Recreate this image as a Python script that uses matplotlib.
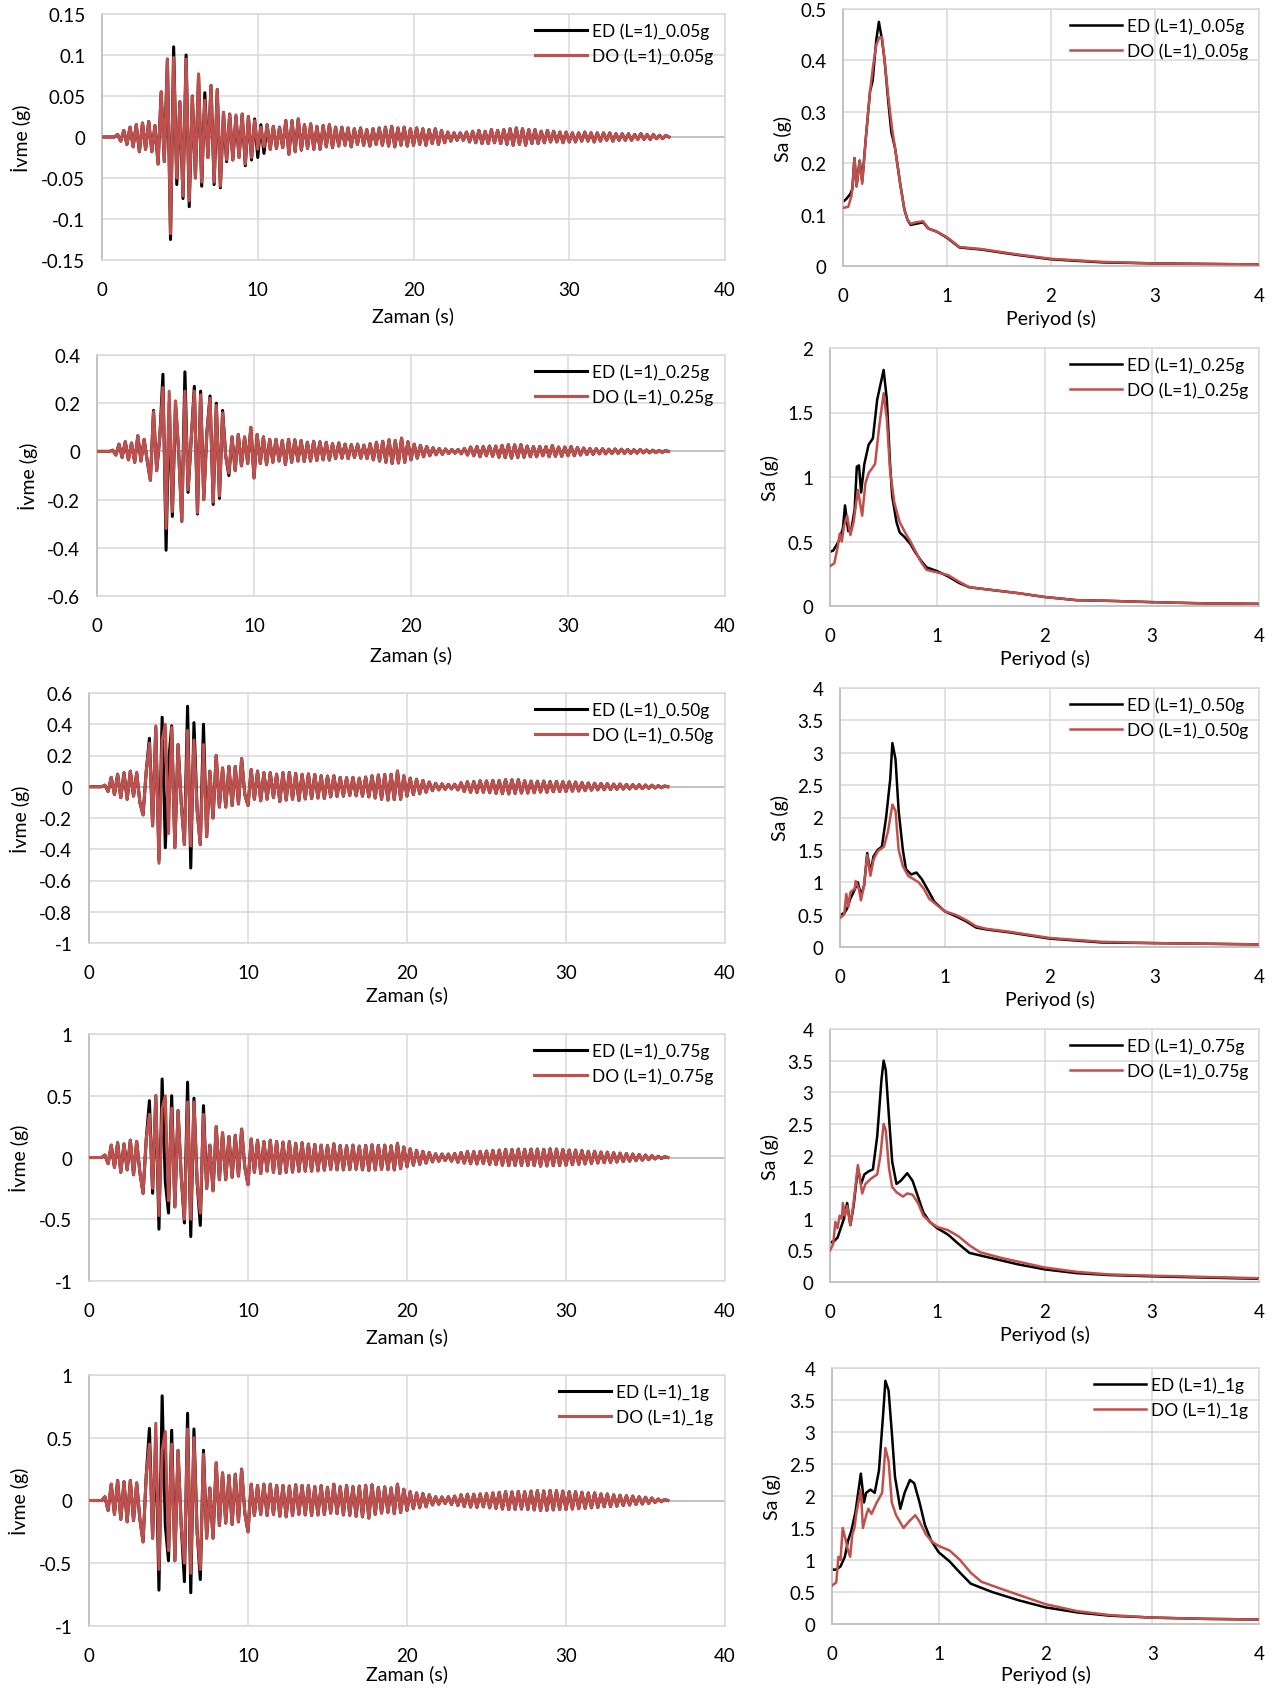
import numpy as np
import matplotlib.pyplot as plt

plt.rcParams['font.family'] = ['Lato', 'DejaVu Sans']

RED = '#c0504d'
GRID = '#d9d9d9'
AXIS = '#bfbfbf'

levels = ['0.05g', '0.25g', '0.50g', '0.75g', '1g']

# acceleration records: one value every 0.2 s, in mg
# first 12 s given separately for ED and DO, the rest of the record overlaps
t_acc = np.arange(183) * 0.2

ed_head_005 = [0, 0, 0, 0, 0, 3, -5, 8, -9, 12,
               -12, 15, -18, 17, -15, 19, -18, 14, -33, 55,
               -30, 95, -125, 110, -58, 43, -75, 100, -85, 50,
               -50, 75, -60, 54, -25, 63, -58, 58, -62, 30,
               -30, 28, -28, 25, -25, 28, -35, 25, -28, 22,
               -25, 15, -20, 15, -15, 13, -14, 12, -13, 20]
do_head_005 = [0, 0, 0, 0, 0, 3, -5, 8, -9, 12,
               -12, 15, -18, 17, -15, 19, -18, 14, -33, 55,
               -30, 95, -118, 97, -50, 43, -72, 95, -78, 50,
               -50, 77, -55, 45, -25, 63, -55, 58, -60, 30,
               -28, 28, -28, 27, -25, 28, -33, 25, -25, 20,
               -15, 12, -12, 15, -15, 13, -14, 12, -13, 20]
tail_005 = [-21, 20, -18, 22, -16, 15, -14, 16, -15, 13,
            -15, 14, -12, 15, -13, 12, -11, 12, -10, 11,
            -12, 10, -9, 11, -10, 9, -11, 10, -9, 11,
            -10, 12, -11, 13, -12, 11, -10, 12, -11, 10,
            -10, 11, -9, 10, -10, 9, -8, 10, -9, 8,
            -7, 6, -5, 5, -4, 5, -4, 6, -6, 7,
            -7, 8, -8, 7, -8, 9, -7, 8, -8, 9,
            -9, 10, -10, 11, -9, 10, -10, 9, -8, 9,
            -8, 7, -7, 8, -6, 7, -6, 6, -7, 6,
            -6, 5, -6, 5, -5, 6, -5, 5, -6, 5,
            -5, 5, -4, 5, -5, 4, -4, 4, -4, 4,
            -4, 3, -3, 4, -3, 3, -3, 3, -2, 2,
            -2, 2, 0]

ed_head_025 = [0, 0, 0, 0, 0, 5, -15, 30, -25, 40,
               -35, 35, -45, 65, -40, 50, -40, -120, 170, -80,
               60, 320, -410, 200, -270, 200, 0, -290, 330, -170,
               50, 270, -260, 250, -200, 80, 230, -220, 200, -195,
               170, -20, -100, 60, -80, 70, -60, 60, -50, 100,
               -110, 70, -50, 60, -55, 50, -45, 50, -40, 45]
do_head_025 = [0, 0, 0, 0, 0, 5, -15, 30, -25, 40,
               -35, 35, -45, 65, -40, 50, -40, -120, 165, -80,
               60, 265, -320, 250, -250, 210, 0, -290, 250, -160,
               50, 250, -255, 235, -200, 80, 220, -210, 190, -185,
               160, -20, -90, 60, -80, 70, -60, 60, -50, 100,
               -110, 70, -50, 60, -55, 50, -45, 50, -40, 45]
tail_025 = [-55, 50, -45, 48, -40, 45, -42, 38, -40, 42,
            -38, 40, -35, 38, -36, 32, -30, 35, -28, 30,
            -30, 28, -25, 30, -28, 26, -30, 32, -35, 38,
            -40, 42, -45, 48, -50, 45, -48, 55, -45, 40,
            -35, 30, -28, 25, -22, 20, -18, 15, -14, 12,
            -12, 10, -9, 8, -7, 8, -10, 12, -15, 18,
            -18, 20, -22, 20, -18, 22, -20, 22, -24, 25,
            -26, 28, -28, 27, -25, 28, -24, 22, -22, 20,
            -22, 20, -18, 20, -22, 24, -20, 18, -20, 18,
            -18, 20, -18, 16, -15, 14, -13, 12, -12, 11,
            -10, 11, -10, 9, -9, 10, -8, 9, -8, 8,
            -8, 7, -7, 8, -6, 6, -6, 5, -5, 4,
            -4, 3, 0]

ed_head_050 = [0, 0, 0, 0, 0, 10, -30, 60, -50, 80,
               -70, 90, -80, 100, -60, 90, -100, -180, 100, 310,
               -250, 380, -470, 445, -390, 150, 390, -390, 270, -100,
               -370, 515, -520, 410, -150, -370, 400, -320, 100, -200,
               200, -130, 120, -130, 130, -120, 130, -110, 180, -50,
               -120, 110, -80, 100, -90, 90, -80, 90, -70, 80]
do_head_050 = [0, 0, 0, 0, 0, 10, -30, 60, -50, 80,
               -70, 90, -80, 100, -60, 90, -100, -180, 100, 280,
               -250, 390, -490, 300, 400, -300, 380, -390, 270, -100,
               -370, 360, -380, 300, -150, -370, 270, -320, 100, -200,
               200, -130, 120, -130, 130, -120, 130, -110, 180, -50,
               -120, 110, -80, 100, -90, 90, -80, 90, -70, 80]
tail_050 = [-95, 90, -85, 92, -80, 85, -88, 80, -78, 82,
            -75, 78, -72, 70, -75, 68, -65, 70, -62, 60,
            -60, 58, -55, 60, -58, 55, -60, 62, -65, 70,
            -72, 75, -80, 78, -85, 80, -82, 100, -80, 70,
            -60, 55, -50, 48, -45, 40, -35, 30, -25, 22,
            -20, 18, -16, 15, -14, 16, -20, 25, -30, 32,
            -35, 33, -36, 38, -35, 37, -38, 40, -42, 40,
            -44, 45, -46, 44, -42, 45, -40, 38, -40, 36,
            -38, 35, -34, 36, -35, 33, -32, 34, -30, 32,
            -30, 31, -28, 30, -27, 26, -25, 24, -22, 22,
            -20, 21, -19, 20, -18, 17, -16, 17, -15, 15,
            -14, 13, -12, 13, -12, 11, -10, 10, -8, 7,
            -6, 5, 0]

ed_head_075 = [0, 0, 0, 0, 0, 20, -50, 100, -80, 120,
               -120, 110, -100, 140, -140, 130, -120, -290, 150, 460,
               -290, 500, -580, 636, -200, -450, 500, -400, 380, -150,
               -530, 610, -640, 480, -200, -550, 420, -250, 100, -270,
               250, -180, 200, -180, 170, -160, 180, -150, 230, -80,
               -220, 150, -120, 140, -130, 130, -110, 140, -120, 130]
do_head_075 = [0, 0, 0, 0, 0, 20, -50, 100, -80, 120,
               -120, 110, -100, 140, -140, 130, -120, -290, 150, 350,
               -250, 500, -470, 400, 500, -350, 400, -400, 380, -150,
               -500, 450, -500, 450, -200, -450, 350, -250, 100, -270,
               250, -180, 200, -180, 170, -160, 180, -150, 230, -80,
               -220, 150, -120, 140, -130, 130, -110, 140, -120, 130]
tail_075 = [-130, 125, -120, 128, -118, 115, -112, 120, -110, 108,
            -110, 105, -108, 100, -102, 98, -95, 110, -100, 98,
            -100, 95, -98, 100, -95, 92, -100, 98, -105, 102,
            -100, 98, -95, 100, -98, 95, -100, 115, -90, 85,
            -75, 70, -62, 58, -55, 50, -45, 40, -35, 30,
            -30, 28, -25, 28, -30, 32, -38, 40, -45, 48,
            -50, 48, -52, 50, -48, 52, -55, 56, -58, 60,
            -62, 65, -66, 64, -65, 68, -64, 66, -65, 68,
            -66, 68, -70, 66, -68, 70, -66, 68, -64, 65,
            -62, 60, -58, 60, -55, 56, -52, 50, -48, 50,
            -45, 44, -42, 43, -40, 38, -36, 35, -33, 32,
            -30, 28, -26, 25, -22, 20, -18, 15, -12, 10,
            -8, 6, 0]

ed_head_1 = [0, 0, 0, 0, 0, 30, -80, 130, -110, 160,
             -150, 150, -170, 160, -160, 140, -150, -330, 200, 575,
             -300, 500, -714, 834, -200, -480, 560, -480, 400, -200,
             -647, 695, -735, 570, -250, -630, 400, -300, 100, -300,
             300, -200, 220, -180, 200, -190, 210, -170, 250, -100,
             -250, 130, -120, 120, -110, 130, -120, 130, -110, 120]
do_head_1 = [0, 0, 0, 0, 0, 30, -80, 130, -110, 160,
             -150, 150, -170, 160, -160, 140, -150, -330, 200, 450,
             -300, 615, -550, 400, 550, -400, 450, -480, 400, -200,
             -500, 570, -580, 500, -250, -550, 370, -300, 100, -300,
             300, -200, 220, -180, 200, -190, 210, -170, 250, -100,
             -250, 130, -120, 120, -110, 130, -120, 130, -110, 120]
tail_1 = [-125, 120, -130, 115, -120, 125, -110, 120, -115, 118,
          -120, 110, -115, 118, -112, 105, -100, 130, -105, 110,
          -115, 120, -118, 110, -125, 115, -130, 120, -140, 125,
          -110, 105, -100, 108, -95, 100, -105, 130, -95, 90,
          -80, 70, -65, 60, -58, 55, -50, 45, -35, 30,
          -30, 28, -25, 30, -32, 35, -40, 45, -48, 50,
          -52, 50, -55, 52, -50, 55, -58, 60, -62, 65,
          -68, 70, -72, 68, -70, 72, -68, 70, -72, 75,
          -75, 78, -80, 76, -78, 80, -75, 78, -72, 75,
          -72, 70, -68, 70, -65, 66, -62, 60, -58, 60,
          -55, 52, -50, 52, -48, 45, -45, 42, -40, 38,
          -36, 35, -32, 30, -28, 26, -24, 20, -16, 12,
          -10, 8, 0]

ed_acc = [ed_head_005 + tail_005, ed_head_025 + tail_025, ed_head_050 + tail_050,
          ed_head_075 + tail_075, ed_head_1 + tail_1]
do_acc = [do_head_005 + tail_005, do_head_025 + tail_025, do_head_050 + tail_050,
          do_head_075 + tail_075, do_head_1 + tail_1]

# response spectra (period in s, Sa in g)
ed_T = [
    [0, 0.03, 0.07, 0.09, 0.11, 0.13, 0.16, 0.185, 0.22, 0.26, 0.285, 0.32, 0.345, 0.375, 0.4,
     0.435, 0.465, 0.5, 0.55, 0.59, 0.62, 0.65, 0.7, 0.77, 0.82, 0.9, 1.0, 1.12, 1.33, 1.66,
     2.0, 2.5, 3.0, 4.0],
    [0, 0.03, 0.08, 0.12, 0.14, 0.17, 0.2, 0.23, 0.25, 0.27, 0.29, 0.32, 0.36, 0.4, 0.44,
     0.5, 0.53, 0.56, 0.58, 0.62, 0.65, 0.7, 0.75, 0.8, 0.85, 0.9, 0.95, 1.0, 1.1, 1.2,
     1.3, 1.5, 1.75, 2.0, 2.3, 2.6, 3.0, 3.5, 4.0],
    [0, 0.04, 0.07, 0.1, 0.13, 0.17, 0.2, 0.23, 0.26, 0.29, 0.32, 0.36, 0.4, 0.44, 0.48,
     0.5, 0.53, 0.56, 0.6, 0.63, 0.68, 0.73, 0.78, 0.85, 0.9, 1.0, 1.1, 1.2, 1.3, 1.4,
     1.6, 2.0, 2.5, 3.0, 4.0],
    [0, 0.04, 0.07, 0.1, 0.13, 0.16, 0.19, 0.22, 0.26, 0.29, 0.32, 0.36, 0.4, 0.44, 0.48,
     0.5, 0.52, 0.55, 0.58, 0.62, 0.66, 0.72, 0.77, 0.82, 0.87, 0.93, 1.0, 1.1, 1.2, 1.3,
     1.5, 1.75, 2.0, 2.3, 2.6, 3.0, 3.5, 4.0],
    [0, 0.04, 0.08, 0.12, 0.15, 0.18, 0.22, 0.27, 0.3, 0.32, 0.36, 0.4, 0.44, 0.48, 0.5,
     0.53, 0.56, 0.59, 0.64, 0.68, 0.73, 0.77, 0.82, 0.87, 0.93, 1.0, 1.1, 1.2, 1.3, 1.5,
     1.75, 2.0, 2.3, 2.6, 3.0, 3.5, 4.0],
]
ed_sa = [
    [0.125, 0.13, 0.14, 0.15, 0.21, 0.155, 0.205, 0.165, 0.25, 0.34, 0.36, 0.44, 0.475, 0.44, 0.40,
     0.32, 0.26, 0.23, 0.16, 0.11, 0.09, 0.08, 0.082, 0.085, 0.073, 0.067, 0.055, 0.036, 0.032, 0.022,
     0.013, 0.007, 0.005, 0.003],
    [0.42, 0.43, 0.5, 0.6, 0.78, 0.58, 0.6, 0.75, 1.08, 1.09, 0.88, 1.1, 1.25, 1.3, 1.6,
     1.83, 1.6, 1.1, 0.85, 0.65, 0.57, 0.53, 0.48, 0.41, 0.35, 0.3, 0.285, 0.27, 0.23, 0.18,
     0.145, 0.125, 0.1, 0.07, 0.045, 0.04, 0.03, 0.02, 0.017],
    [0.5, 0.52, 0.6, 0.75, 0.85, 1.0, 0.8, 0.95, 1.45, 1.15, 1.4, 1.5, 1.55, 2.0, 2.6,
     3.15, 2.9, 2.1, 1.5, 1.2, 1.12, 1.15, 1.05, 0.85, 0.7, 0.55, 0.48, 0.4, 0.3, 0.27,
     0.23, 0.13, 0.07, 0.06, 0.04],
    [0.62, 0.65, 0.7, 0.85, 1.0, 1.25, 0.9, 1.2, 1.8, 1.55, 1.7, 1.75, 1.78, 2.3, 3.2,
     3.5, 3.35, 2.6, 1.9, 1.55, 1.6, 1.72, 1.6, 1.35, 1.1, 0.95, 0.85, 0.75, 0.6, 0.46,
     0.38, 0.28, 0.2, 0.14, 0.11, 0.09, 0.07, 0.05],
    [0.85, 0.85, 0.9, 1.05, 1.3, 1.45, 1.75, 2.35, 1.9, 2.05, 2.1, 2.05, 2.4, 3.3, 3.8,
     3.65, 3.0, 2.3, 1.8, 2.05, 2.25, 2.2, 1.9, 1.55, 1.3, 1.12, 0.98, 0.8, 0.63, 0.5,
     0.37, 0.26, 0.18, 0.13, 0.1, 0.08, 0.07],
]
do_T = [
    [0, 0.05, 0.08, 0.09, 0.11, 0.13, 0.16, 0.185, 0.22, 0.26, 0.29, 0.32, 0.35, 0.375, 0.4,
     0.435, 0.47, 0.5, 0.55, 0.59, 0.62, 0.65, 0.7, 0.77, 0.82, 0.9, 1.0, 1.12, 1.33, 1.66,
     2.0, 2.5, 3.0, 4.0],
    [0, 0.04, 0.07, 0.09, 0.11, 0.13, 0.16, 0.19, 0.22, 0.26, 0.3, 0.33, 0.36, 0.42, 0.46,
     0.5, 0.53, 0.56, 0.6, 0.65, 0.7, 0.75, 0.8, 0.85, 0.9, 1.0, 1.1, 1.2, 1.3, 1.5,
     1.75, 2.0, 2.3, 2.6, 3.0, 3.5, 4.0],
    [0, 0.04, 0.06, 0.08, 0.1, 0.14, 0.15, 0.18, 0.2, 0.23, 0.26, 0.29, 0.32, 0.36, 0.42,
     0.46, 0.5, 0.53, 0.56, 0.6, 0.65, 0.7, 0.75, 0.8, 0.85, 0.9, 1.0, 1.1, 1.2, 1.3,
     1.4, 1.6, 2.0, 2.5, 3.0, 4.0],
    [0, 0.03, 0.05, 0.07, 0.09, 0.11, 0.12, 0.14, 0.16, 0.19, 0.22, 0.26, 0.3, 0.33, 0.38,
     0.44, 0.47, 0.5, 0.52, 0.55, 0.58, 0.62, 0.68, 0.72, 0.77, 0.82, 0.87, 0.93, 1.0, 1.1,
     1.2, 1.3, 1.4, 1.6, 2.0, 2.3, 2.6, 3.0, 4.0],
    [0, 0.04, 0.06, 0.08, 0.1, 0.13, 0.15, 0.17, 0.19, 0.21, 0.23, 0.27, 0.29, 0.32, 0.34,
     0.37, 0.42, 0.47, 0.5, 0.53, 0.56, 0.6, 0.67, 0.72, 0.78, 0.82, 0.88, 0.94, 1.0, 1.1,
     1.2, 1.3, 1.4, 1.6, 2.0, 2.3, 2.6, 3.0, 3.5, 4.0],
]
do_sa = [
    [0.113, 0.115, 0.135, 0.15, 0.21, 0.155, 0.205, 0.16, 0.25, 0.34, 0.39, 0.43, 0.445, 0.445, 0.40,
     0.33, 0.27, 0.23, 0.16, 0.11, 0.09, 0.082, 0.085, 0.087, 0.073, 0.067, 0.056, 0.037, 0.033, 0.023,
     0.014, 0.008, 0.005, 0.003],
    [0.31, 0.33, 0.45, 0.56, 0.5, 0.62, 0.7, 0.55, 0.65, 0.9, 0.7, 0.95, 1.03, 1.1, 1.4,
     1.65, 1.45, 1.05, 0.8, 0.65, 0.57, 0.5, 0.42, 0.34, 0.28, 0.26, 0.24, 0.19, 0.145, 0.125,
     0.1, 0.07, 0.045, 0.04, 0.03, 0.02, 0.017],
    [0.45, 0.5, 0.82, 0.62, 0.85, 0.9, 1.02, 0.9, 0.72, 0.95, 1.42, 1.1, 1.35, 1.48, 1.55,
     1.8, 2.2, 2.1, 1.5, 1.25, 1.1, 1.05, 1.0, 0.9, 0.75, 0.68, 0.55, 0.5, 0.42, 0.32,
     0.28, 0.24, 0.14, 0.08, 0.06, 0.04],
    [0.5, 0.6, 0.95, 0.85, 1.05, 1.0, 1.25, 1.05, 1.2, 0.9, 1.25, 1.85, 1.4, 1.55, 1.63,
     1.7, 2.0, 2.5, 2.4, 1.8, 1.5, 1.42, 1.35, 1.4, 1.38, 1.25, 1.05, 0.95, 0.87, 0.82,
     0.72, 0.58, 0.47, 0.38, 0.23, 0.16, 0.12, 0.1, 0.06],
    [0.6, 0.65, 1.05, 1.0, 1.5, 1.3, 1.15, 1.05, 1.4, 1.5, 1.75, 2.1, 1.5, 1.7, 1.8,
     1.72, 1.9, 2.05, 2.75, 2.55, 1.9, 1.7, 1.5, 1.6, 1.7, 1.6, 1.4, 1.28, 1.22, 1.15,
     1.0, 0.8, 0.66, 0.54, 0.31, 0.2, 0.14, 0.1, 0.08, 0.07],
]

acc_ylim = [(-0.15, 0.15, 0.05), (-0.6, 0.4, 0.2), (-1, 0.6, 0.2), (-1, 1, 0.5), (-1, 1, 0.5)]
sa_ylim = [(0, 0.5, 0.1), (0, 2, 0.5), (0, 4, 0.5), (0, 4, 0.5), (0, 4, 0.5)]

# plot areas in pixels: left, top, right, bottom
W, H = 1283, 1690
acc_box = [(102, 15, 725, 261), (97, 356, 725, 597), (89, 694, 725, 944),
           (89, 1035, 725, 1282), (89, 1376, 725, 1627)]
sa_box = [(843, 10, 1259, 267), (830, 349, 1259, 607), (840, 689, 1259, 948),
          (830, 1030, 1259, 1283), (832, 1369, 1259, 1625)]
acc_xlabel_pad = [6, 8, 3, 6, 0]
sa_xlabel_pad = [4, 4, 4, 4, 2]

fig = plt.figure(figsize=(W / 100, H / 100), dpi=100)


def make_axes(box):
    L, T, R, B = box
    return fig.add_axes([L / W, 1 - B / H, (R - L) / W, (B - T) / H])


def style(ax, xmax, xstep, ylim, bottom_axis):
    y0, y1, ys = ylim
    ax.set_xlim(0, xmax)
    ax.set_ylim(y0, y1)
    ax.set_xticks(np.arange(0, xmax + xstep / 2, xstep))
    ax.set_yticks(np.round(np.arange(y0, y1 + ys / 2, ys), 3))
    ax.xaxis.set_major_formatter(lambda v, p: f'{v:g}')
    ax.yaxis.set_major_formatter(lambda v, p: f'{round(v, 3) + 0:g}')
    ax.grid(True, color=GRID, lw=1.1)
    ax.set_axisbelow(True)
    for s in ['top', 'right', 'bottom']:
        ax.spines[s].set_color(GRID)
        ax.spines[s].set_linewidth(1.1)
    ax.spines['left'].set_color(AXIS)
    ax.spines['left'].set_linewidth(1.3)
    if bottom_axis:
        ax.spines['bottom'].set_color(AXIS)
        ax.spines['bottom'].set_linewidth(1.3)
    ax.tick_params(length=0, labelsize=13.5, colors='black')
    ax.tick_params(axis='x', pad=15)
    ax.tick_params(axis='y', pad=12)


for i, lev in enumerate(levels):
    ax = make_axes(acc_box[i])
    style(ax, 40, 10, acc_ylim[i], False)
    ax.axhline(0, color=AXIS, lw=1.3, zorder=1)
    ax.plot(t_acc, np.array(ed_acc[i]) / 1000, color='black', lw=2.2, label=f'ED (L=1)_{lev}', zorder=2)
    ax.plot(t_acc, np.array(do_acc[i]) / 1000, color=RED, lw=2.2, label=f'DO (L=1)_{lev}', zorder=3)
    ax.set_xlabel('Zaman (s)', fontsize=14, labelpad=acc_xlabel_pad[i])
    ax.set_ylabel('İvme (g)', fontsize=14, labelpad=7)
    ax.legend(loc='upper right', bbox_to_anchor=(0.995, 1.0), frameon=False, fontsize=12.5,
              handlelength=3.0, handletextpad=0.3, borderaxespad=0.1)

    ax = make_axes(sa_box[i])
    style(ax, 4, 1, sa_ylim[i], True)
    ax.plot(ed_T[i], ed_sa[i], color='black', lw=1.8, label=f'ED (L=1)_{lev}', zorder=2)
    ax.plot(do_T[i], do_sa[i], color=RED, lw=1.8, label=f'DO (L=1)_{lev}', zorder=3)
    ax.set_xlabel('Periyod (s)', fontsize=14, labelpad=sa_xlabel_pad[i])
    ax.set_ylabel('Sa (g)', fontsize=14, labelpad=6)
    ax.legend(loc='upper right', bbox_to_anchor=(0.995, 1.0), frameon=False, fontsize=12.5,
              handlelength=3.0, handletextpad=0.3, borderaxespad=0.1)

fig.savefig('out.png', dpi=100)
